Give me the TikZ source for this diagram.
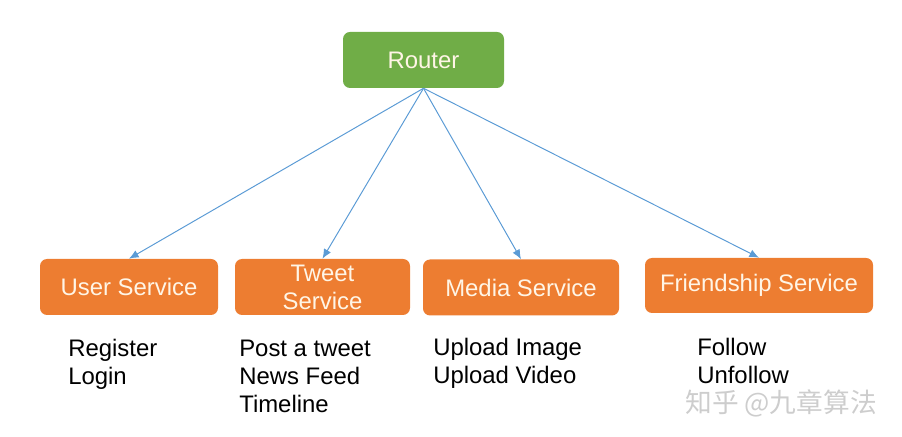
\documentclass[tikz,border=0pt]{standalone}
\usepackage{fontspec}
\setmainfont{Liberation Sans}
\newfontfamily\cjkfont{Noto Sans CJK SC}
\usetikzlibrary{arrows.meta,positioning}
\definecolor{RouterGreen}{RGB}{112,173,71}
\definecolor{SvcOrange}{RGB}{237,125,49}
\definecolor{LinkBlue}{RGB}{91,155,213}
\definecolor{Cream}{RGB}{255,245,230}
\definecolor{MarkGray}{RGB}{205,205,205}
\tikzset{
  >=Latex,
  box/.style={rounded corners=5pt,align=center,text=Cream,font=\fontsize{17}{20}\selectfont,minimum height=1.4cm,inner sep=0pt},
  router/.style={box,fill=RouterGreen},
  service/.style={box,fill=SvcOrange},
  task/.style={anchor=base west,align=left,inner sep=0pt,text=black,font=\fontsize{17}{20}\selectfont},
  link/.style={-{Latex[length=2.4mm,width=2mm]},line width=.7pt,draw=LinkBlue}
}
\begin{document}
\begin{tikzpicture}[x=1cm,y=1cm]
  \useasboundingbox (0,0) rectangle (22.55,10.925);
  \node[router,minimum width=4.025cm] (router) at (10.5875,9.425) {Router};
  \node[service,minimum width=4.45cm] (user) at (3.225,3.75) {User Service};
  \node[service,minimum width=4.375cm] (tweet) at (8.0625,3.75) {Tweet\\Service};
  \node[service,minimum width=4.9cm] (media) at (13.025,3.7375) {Media Service};
  \node[service,minimum width=5.7cm,minimum height=1.375cm] (friend) at (18.975,3.7875) {Friendship Service};
  \foreach \s in {user,tweet,media,friend}{\draw[link] (router.south)--(\s.north);}
  % base anchor sits on the last line
  \node[task] (userTasks) at (1.7,1.3) {Register\\Login};
  \node[task] (tweetTasks) at (5.975,0.6) {Post a tweet\\News Feed\\Timeline};
  \node[task] (mediaTasks) at (10.825,1.325) {Upload Image\\Upload Video};
  \node[task] (friendTasks) at (17.425,1.325) {Follow\\Unfollow};
  \node[anchor=base west,inner sep=0pt,text=MarkGray,font=\cjkfont\fontsize{19}{22}\selectfont] (mark) at (17.125,0.6) {知乎 @九章算法};
\end{tikzpicture}
\end{document}
